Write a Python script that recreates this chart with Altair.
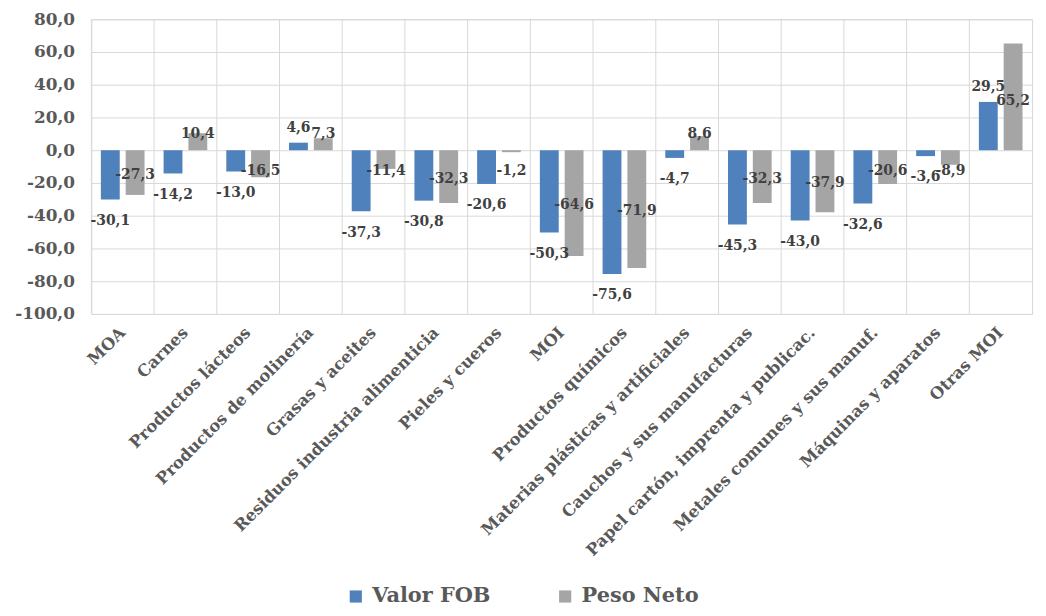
import altair as alt
import pandas as pd

categories = [
    "MOA", "Carnes", "Productos lácteos", "Productos de molinería",
    "Grasas y aceites", "Residuos industria alimenticia", "Pieles y cueros",
    "MOI", "Productos químicos", "Materias plásticas y artificiales",
    "Cauchos y sus manufacturas", "Papel cartón, imprenta y publicac.",
    "Metales comunes y sus manuf.", "Máquinas y aparatos", "Otras MOI",
]
valor_fob = [-30.1, -14.2, -13.0, 4.6, -37.3, -30.8, -20.6, -50.3, -75.6, -4.7,
             -45.3, -43.0, -32.6, -3.6, 29.5]
peso_neto = [-27.3, 10.4, -16.5, 7.3, -11.4, -32.3, -1.2, -64.6, -71.9, 8.6,
             -32.3, -37.9, -20.6, -8.9, 65.2]
series = ["Valor FOB", "Peso Neto"]
colors = ["#4f81bd", "#a5a5a5"]
y_ticks = [-100, -80, -60, -40, -20, 0, 20, 40, 60, 80]

rows = []
for c, v1, v2 in zip(categories, valor_fob, peso_neto):
    rows.append({"cat": c, "serie": series[0], "valor": v1})
    rows.append({"cat": c, "serie": series[1], "valor": v2})
df = pd.DataFrame(rows)
cat_df = pd.DataFrame({"cat": categories})

FONT = "DejaVu Serif"
AXIS_COLOR = "#595959"

x_axis = alt.Axis(title=None, labelAngle=-45, labelAlign="right", labelBaseline="middle",
                  labelFont=FONT, labelFontWeight="bold", labelFontSize=16.5,
                  labelColor=AXIS_COLOR, labelPadding=16, ticks=False, domain=False,
                  grid=False, labelOverlap=False, labelLimit=500)
x_scale = alt.Scale(paddingInner=0, paddingOuter=0)
y_scale = alt.Scale(domain=[-100, 80], nice=False, zero=False)
y_axis = alt.Axis(title=None, values=y_ticks,
                  labelExpr="replace(replace(format(datum.value, '.1f'), '.', ','), '\u2212', '-')",
                  labelFont=FONT, labelFontWeight="bold", labelFontSize=17,
                  labelColor=AXIS_COLOR, labelPadding=17, ticks=False, domain=False,
                  grid=True, gridColor="#d9d9d9", gridWidth=1)

X = alt.X("cat:N", sort=categories, scale=x_scale, axis=x_axis)
XO = alt.XOffset("serie:N", sort=series,
                 scale=alt.Scale(paddingInner=0.24, paddingOuter=0.384))

rules = alt.Chart(cat_df).mark_rule(color="#d9d9d9", strokeWidth=1).encode(
    x=alt.X("cat:N", sort=categories, scale=x_scale, axis=x_axis, bandPosition=0)
)

bars = alt.Chart(df).mark_bar().encode(
    x=X,
    xOffset=XO,
    y=alt.Y("valor:Q", scale=y_scale, axis=y_axis),
    color=alt.Color("serie:N", sort=series,
                    scale=alt.Scale(domain=series, range=colors),
                    legend=alt.Legend(title=None, orient="none", direction="horizontal",
                                      legendX=256, legendY=571,
                                      symbolType="square", symbolSize=150,
                                      symbolStrokeWidth=0,
                                      labelFont=FONT, labelFontWeight="bold",
                                      labelFontSize=21, labelColor=AXIS_COLOR,
                                      columnPadding=64, labelOffset=6)),
)

labels = alt.Chart(df).transform_calculate(
    ylab="datum.serie == 'Valor FOB' ? (datum.valor < 0 ? datum.valor - 13 : datum.valor + 9)"
         " : (datum.valor < 0 ? min(datum.valor / 2 - 1.2, -13) : max(datum.valor / 2 - 2.4, 10))",
    label="replace(replace(format(datum.valor, '.1f'), '.', ','), '\u2212', '-')",
).mark_text(font=FONT, fontWeight="bold", fontSize=14, color="#404040",
            align="center", baseline="middle").encode(
    x=X,
    xOffset=XO,
    y=alt.Y("ylab:Q", scale=y_scale, axis=y_axis),
    text="label:N",
)

chart = alt.layer(rules, bars, labels).properties(
    width=948, height=297,
    autosize=alt.AutoSizeParams(type="none"),
    padding={"left": 84, "top": 9, "right": 6, "bottom": 292},
).configure_view(stroke="#d9d9d9", strokeWidth=1)

chart.save("out.html", embed_options={"renderer": "svg", "actions": False})
